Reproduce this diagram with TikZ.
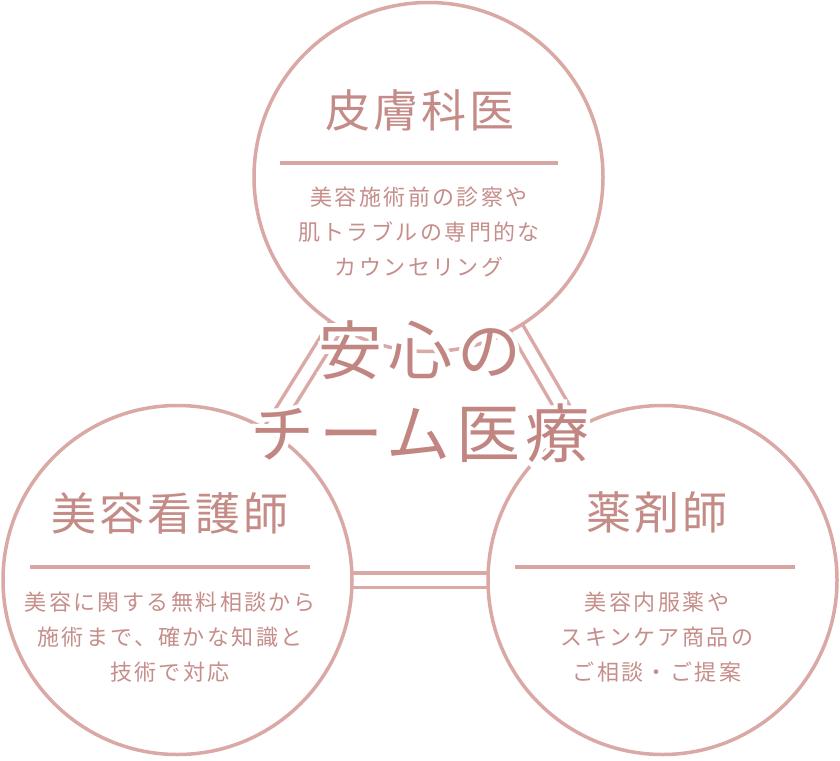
\documentclass[tikz,border=0pt]{standalone}
\usepackage{fontspec}
\usetikzlibrary{backgrounds}
\newfontfamily\jpbody[LetterSpace=11]{Noto Sans CJK JP}
\newfontfamily\jphead[LetterSpace=7]{Noto Sans CJK JP}
\newfontfamily\jpbig[LetterSpace=8]{Noto Sans CJK JP}
\newfontfamily\jphalo[LetterSpace=8,FakeBold=13]{Noto Sans CJK JP}
\definecolor{ringc}{HTML}{DAA9A6}
\definecolor{rulec}{HTML}{D7A6A3}
\definecolor{headc}{HTML}{C48B87}
\definecolor{bodyc}{HTML}{C68E8B}
\definecolor{bigc}{HTML}{C28682}
\tikzset{
  ring/.style={circle, draw=ringc, line width=3.5pt, minimum size=349pt, inner sep=0pt, outer sep=0pt},
  link/.style={draw=ringc, line width=3.5pt, double=white, double distance=11pt},
  rulel/.style={draw=rulec, line width=4pt},
  head/.style={text=headc, font={\jphead\fontsize{45}{50}\selectfont}, inner sep=0pt},
  body/.style={text=bodyc, font={\jpbody\fontsize{22}{35}\selectfont}, align=center, inner sep=0pt},
  big/.style={text=bigc, font={\jpbig\fontsize{64}{83}\selectfont}, align=center, inner sep=0pt},
  halo/.style={text=white, font={\jphalo\fontsize{64}{83}\selectfont}, align=center, inner sep=0pt}
}
\begin{document}
\begin{tikzpicture}[x=1pt,y=-1pt]
\useasboundingbox (0,0) rectangle (840,760);
% circles
\node[ring] (top) at (428.5,177) {};
\node[ring] (left) at (177.5,580) {};
\node[ring] (right) at (662.5,580) {};
\begin{pgfonlayer}{background}
  \fill[white] (0,0) rectangle (840,760);
  \draw[link] (top) -- (left);
  \draw[link] (top) -- (right);
  \draw[link] (left) -- (right);
\end{pgfonlayer}
% top circle content
\node[head] (tH) at (420,110) {皮膚科医};
\coordinate (tRa) at (280,163);
\coordinate (tRb) at (558,163);
\draw[rulel] (tRa) -- (tRb);
\node[body] (tB) at (419,232) {美容施術前の診察や\\肌トラブルの専門的な\\カウンセリング};
% left circle content
\node[head] (lH) at (170,513) {美容看護師};
\coordinate (lRa) at (30,567);
\coordinate (lRb) at (310,567);
\draw[rulel] (lRa) -- (lRb);
\node[body] (lB) at (170,637) {美容に関する無料相談から\\施術まで、確かな知識と\\技術で対応};
% right circle content
\node[head] (rH) at (657,513) {薬剤師};
\coordinate (rRa) at (515,567);
\coordinate (rRb) at (795,567);
\draw[rulel] (rRa) -- (rRb);
\node[body] (rB) at (657,637) {美容内服薬や\\スキンケア商品の\\ご相談・ご提案};
% central title with white halo
\node[halo] (titlehalo) at (420,391.5) {安心の\\チーム医療};
\node[big] (title) at (420,391.5) {安心の\\チーム医療};
\end{tikzpicture}
\end{document}
